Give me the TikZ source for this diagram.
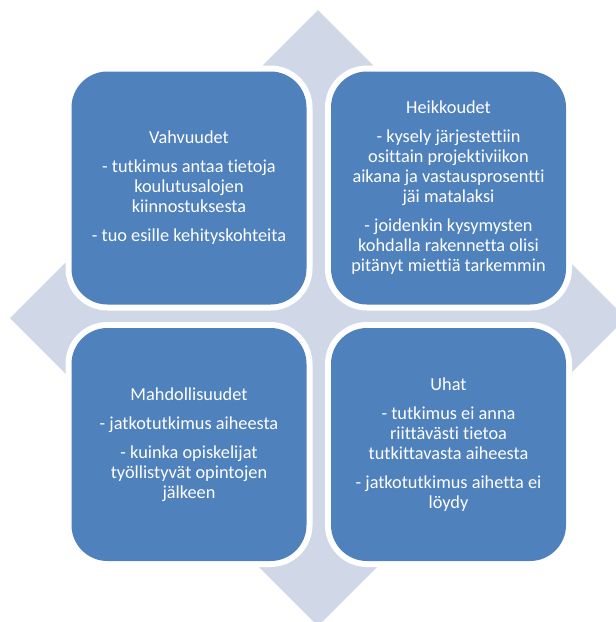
\documentclass[tikz,border=0pt]{standalone}
\usepackage{fontspec}
\setmainfont{Carlito}[Ligatures={NoCommon,NoContextual}]
\definecolor{boxblue}{HTML}{4F81BD}
\definecolor{diamondc}{HTML}{D0D8E8}
\tikzset{
  swotbox/.style={rectangle, rounded corners=36pt, fill=boxblue, minimum width=235pt, minimum height=233pt,
    inner sep=0pt},
  swotring/.style={rectangle, rounded corners=42pt, fill=white, minimum width=247pt, minimum height=245pt, inner sep=0pt},
  swottext/.style={text=white, align=center, font=\fontsize{18.3}{20}\selectfont}
}
\begin{document}
\begin{tikzpicture}[x=1pt,y=-1pt]
\useasboundingbox (0,0) rectangle (616,622);
\fill[diamondc] (318,10) -- (626,318) -- (318,626) -- (10,318) -- cycle;
% rings
\node[swotring] (r1) at (189,188) {};
\node[swotring] (r2) at (448.5,188) {};
\node[swotring] (r3) at (189,444.5) {};
\node[swotring] (r4) at (448.5,444.5) {};
% boxes
\node[swotbox] (s) at (189,188) {};
\node[swotbox] (w) at (448.5,188) {};
\node[swotbox] (o) at (189,444.5) {};
\node[swotbox] (t) at (448.5,444.5) {};
\node[swottext] (st) at (s.center) {Vahvuudet\\[9pt]- tutkimus antaa tietoja\\koulutusalojen\\kiinnostuksesta\\[9pt]- tuo esille kehityskohteita};
\node[swottext] (wt) at (w.center) {Heikkoudet\\[9pt]- kysely järjestettiin\\osittain projektiviikon\\aikana ja vastausprosentti\\jäi matalaksi\\[9pt]- joidenkin kysymysten\\kohdalla rakennetta olisi\\pitänyt miettiä tarkemmin};
\node[swottext] (ot) at (o.center) {Mahdollisuudet\\[9pt]- jatkotutkimus aiheesta\\[9pt]- kuinka opiskelijat\\työllistyvät opintojen\\jälkeen};
\node[swottext] (tt) at (t.center) {Uhat\\[9pt]- tutkimus ei anna\\riittävästi tietoa\\tutkittavasta aiheesta\\[9pt]- jatkotutkimus aihetta ei\\löydy};
\end{tikzpicture}
\end{document}
